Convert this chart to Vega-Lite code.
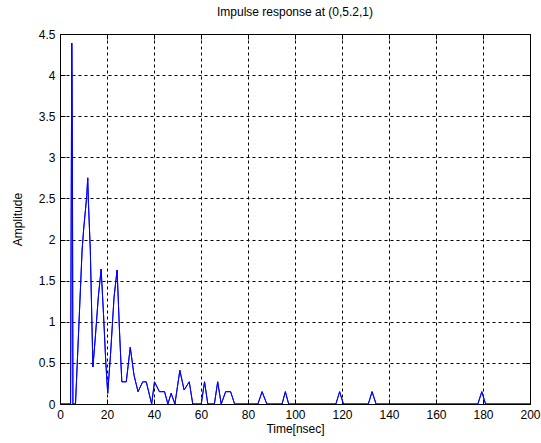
{
  "$schema": "https://vega.github.io/schema/vega-lite/v6.json",
  "width": 470,
  "height": 370,
  "autosize": {"type": "none"},
  "padding": {"left": 60, "top": 34, "right": 11, "bottom": 39},
  "background": "white",
  "title": {"text": "Impulse response at (0,5.2,1)", "font": "Liberation Sans", "fontSize": 12, "fontWeight": "normal", "color": "black", "offset": 9, "anchor": "middle"},
  "config": {
    "view": {"stroke": "black", "strokeWidth": 1},
    "axis": {
      "labelFont": "Liberation Sans", "labelFontSize": 12, "labelColor": "black",
      "titleFont": "Liberation Sans", "titleFontSize": 12, "titleFontWeight": "normal", "titleColor": "black",
      "grid": true, "gridColor": "black", "gridDash": [3, 3], "gridOpacity": 1, "gridWidth": 1,
      "domain": false, "tickColor": "black", "tickSize": -5, "labelPadding": 10
    }
  },
  "data": {"values": [
    {"t": 0, "a": 0}, {"t": 4.5, "a": 0}, {"t": 5.0, "a": 4.39}, {"t": 5.15, "a": 3.84}, {"t": 5.3, "a": 2.75}, {"t": 5.5, "a": 0},
    {"t": 6.6, "a": 0}, {"t": 9.4, "a": 1.87}, {"t": 10.1, "a": 2.14}, {"t": 10.9, "a": 2.38}, {"t": 11.4, "a": 2.54}, {"t": 11.8, "a": 2.75},
    {"t": 12.1, "a": 2.45}, {"t": 12.9, "a": 1.87}, {"t": 14.0, "a": 0.45}, {"t": 15.0, "a": 0.8}, {"t": 16.3, "a": 1.3}, {"t": 17.5, "a": 1.64},
    {"t": 18.5, "a": 1.1}, {"t": 19.5, "a": 0.5}, {"t": 20.3, "a": 0.13}, {"t": 21.5, "a": 0.6}, {"t": 23.0, "a": 1.3}, {"t": 24.3, "a": 1.63},
    {"t": 25.3, "a": 0.9}, {"t": 26.3, "a": 0.27}, {"t": 28.2, "a": 0.27}, {"t": 29.9, "a": 0.69}, {"t": 31.5, "a": 0.35}, {"t": 33.2, "a": 0.15},
    {"t": 35.2, "a": 0.27}, {"t": 36.7, "a": 0.27}, {"t": 39.0, "a": 0}, {"t": 40.2, "a": 0.27}, {"t": 42.3, "a": 0.15}, {"t": 44.5, "a": 0.15},
    {"t": 45.9, "a": 0}, {"t": 47.3, "a": 0.13}, {"t": 48.9, "a": 0}, {"t": 51.0, "a": 0.41}, {"t": 52.8, "a": 0.17}, {"t": 55.0, "a": 0.27},
    {"t": 56.5, "a": 0}, {"t": 60.1, "a": 0}, {"t": 61.5, "a": 0.27}, {"t": 62.9, "a": 0}, {"t": 65.7, "a": 0}, {"t": 67.1, "a": 0.27},
    {"t": 68.6, "a": 0}, {"t": 70.5, "a": 0.15}, {"t": 72.6, "a": 0.15}, {"t": 74.3, "a": 0}, {"t": 84.2, "a": 0}, {"t": 86.0, "a": 0.15},
    {"t": 88.0, "a": 0}, {"t": 94.5, "a": 0}, {"t": 95.9, "a": 0.15}, {"t": 97.3, "a": 0}, {"t": 117.4, "a": 0}, {"t": 119.0, "a": 0.15},
    {"t": 120.6, "a": 0}, {"t": 131.2, "a": 0}, {"t": 132.8, "a": 0.15}, {"t": 134.5, "a": 0}, {"t": 177.8, "a": 0}, {"t": 179.5, "a": 0.15},
    {"t": 181.1, "a": 0}, {"t": 200, "a": 0}
  ]},
  "layer": [
    {
      "mark": {"type": "line", "color": "#0000ff", "strokeWidth": 1, "clip": true},
      "encoding": {
        "x": {"field": "t", "type": "quantitative", "title": "Time[nsec]",
          "scale": {"domain": [0, 200], "nice": false, "zero": false},
          "axis": {"values": [0, 20, 40, 60, 80, 100, 120, 140, 160, 180, 200], "titlePadding": 3, "labelFlush": false}},
        "y": {"field": "a", "type": "quantitative", "title": "Amplitude",
          "scale": {"domain": [0, 4.5], "nice": false, "zero": false},
          "axis": {"values": [0, 0.5, 1, 1.5, 2, 2.5, 3, 3.5, 4, 4.5], "format": "~g", "titlePadding": 14, "labelFlush": false}}
      }
    },
    {
      "mark": {"type": "line", "color": "#0000ff", "strokeWidth": 1, "clip": true},
      "encoding": {
        "x": {"field": "t", "type": "quantitative",
          "scale": {"domain": [0, 200], "nice": false, "zero": false},
          "axis": {"orient": "top", "values": [0, 20, 40, 60, 80, 100, 120, 140, 160, 180, 200], "labels": false, "grid": false, "title": null}},
        "y": {"field": "a", "type": "quantitative",
          "scale": {"domain": [0, 4.5], "nice": false, "zero": false},
          "axis": {"orient": "right", "values": [0, 0.5, 1, 1.5, 2, 2.5, 3, 3.5, 4, 4.5], "labels": false, "grid": false, "title": null}}
      }
    }
  ],
  "resolve": {"axis": {"x": "independent", "y": "independent"}}
}
